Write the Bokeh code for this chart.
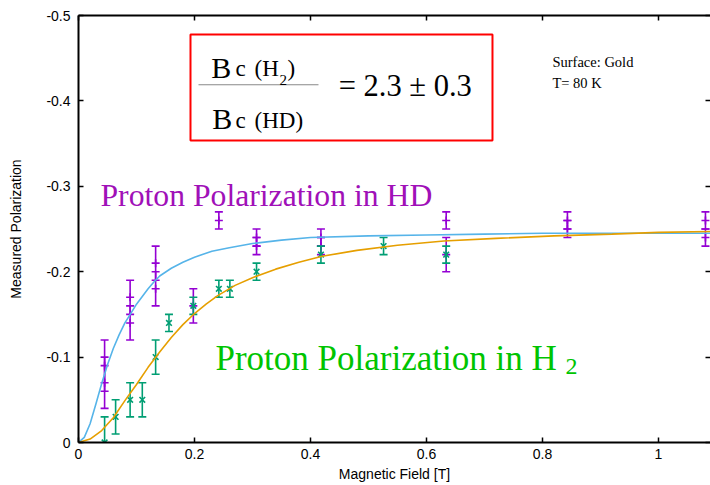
from bokeh.plotting import figure
from bokeh.models import Range1d, FixedTicker, LinearAxis, Label, BoxAnnotation, ColumnDataSource
from bokeh.embed import file_html
from bokeh.resources import INLINE

# ---------------- data ----------------
hd_x = [0.045, 0.045, 0.089, 0.089, 0.133, 0.133, 0.198, 0.242, 0.307, 0.307,
        0.418, 0.418, 0.634, 0.634, 0.843, 0.843, 1.081, 1.081]
hd_y = [-0.09, -0.07, -0.17, -0.14, -0.21, -0.18, -0.16, -0.26, -0.24, -0.23,
        -0.24, -0.23, -0.26, -0.22, -0.26, -0.25, -0.26, -0.24]
hd_err = [0.03, 0.03, 0.02, 0.02, 0.02, 0.02, 0.02, 0.01, 0.01, 0.01,
          0.01, 0.01, 0.01, 0.02, 0.01, 0.01, 0.01, 0.01]

h2_x = [0.045, 0.064, 0.089, 0.110, 0.133, 0.156, 0.198, 0.242, 0.261, 0.307,
        0.418, 0.526, 0.634]
h2_y = [0.00, -0.03, -0.05, -0.05, -0.10, -0.14, -0.16, -0.18, -0.18, -0.20,
        -0.22, -0.23, -0.22]
h2_err = [0.03, 0.02, 0.02, 0.02, 0.02, 0.01, 0.01, 0.01, 0.01, 0.01,
          0.01, 0.01, 0.01]

hd_fit_x = [0, 0.01, 0.02, 0.03, 0.04, 0.05, 0.06, 0.07, 0.08, 0.09, 0.10, 0.11,
            0.12, 0.13, 0.14, 0.16, 0.18, 0.20, 0.23, 0.26, 0.30, 0.35, 0.40,
            0.50, 0.60, 0.70, 0.80, 0.90, 1.00, 1.09]
hd_fit_y = [0, -0.006, -0.022, -0.045, -0.069, -0.091, -0.110, -0.126, -0.140,
            -0.151, -0.162, -0.171, -0.180, -0.188, -0.195, -0.204, -0.211,
            -0.217, -0.224, -0.228, -0.233, -0.237, -0.240, -0.242, -0.243,
            -0.244, -0.245, -0.245, -0.245, -0.245]

h2_fit_x = [0, 0.02, 0.04, 0.06, 0.08, 0.10, 0.12, 0.14, 0.16, 0.18, 0.20, 0.22,
            0.24, 0.27, 0.30, 0.34, 0.38, 0.42, 0.48, 0.55, 0.63, 0.72, 0.82,
            0.92, 1.00, 1.09]
h2_fit_y = [0, -0.004, -0.014, -0.029, -0.049, -0.068, -0.088, -0.106, -0.123,
            -0.138, -0.151, -0.162, -0.172, -0.184, -0.193, -0.203, -0.211,
            -0.218, -0.225, -0.231, -0.236, -0.239, -0.242, -0.244, -0.246,
            -0.247]

x_ticks = [0, 0.2, 0.4, 0.6, 0.8, 1.0]
x_tick_labels = ["0", "0.2", "0.4", "0.6", "0.8", "1"]
y_ticks = [0, -0.1, -0.2, -0.3, -0.4, -0.5]
y_tick_labels = ["0", "-0.1", "-0.2", "-0.3", "-0.4", "-0.5"]

# ---------------- styles ----------------
HD_COL = "#9400d3"
H2_COL = "#009e73"
HD_FIT = "#56b4e9"
H2_FIT = "#e69f00"
SANS = "Liberation Sans"
SERIF = "Liberation Serif"

p = figure(width=710, height=485, x_range=Range1d(0, 1.0897), y_range=Range1d(0, -0.5),
           output_backend="svg", toolbar_location=None,
           min_border_left=78, min_border_right=0, min_border_top=15, min_border_bottom=43)
p.outline_line_color = None
p.grid.visible = False
p.background_fill_color = "white"
p.border_fill_color = "white"

for ax, ticks, labels in ((p.xaxis[0], x_ticks, x_tick_labels), (p.yaxis[0], y_ticks, y_tick_labels)):
    ax.ticker = FixedTicker(ticks=ticks)
    ax.major_label_overrides = {t: l for t, l in zip(ticks, labels)}
    ax.major_tick_in = 5
    ax.major_tick_out = 0
    ax.minor_tick_line_color = None
    ax.axis_line_width = 2
    ax.axis_line_color = "black"
    ax.major_tick_line_width = 1.5
    ax.major_label_text_font = SANS
    ax.major_label_text_font_size = "14px"
    ax.major_label_text_color = "black"
    ax.axis_label_text_font = SANS
    ax.axis_label_text_font_size = "14px"
    ax.axis_label_text_font_style = "normal"
    ax.axis_label_text_color = "black"

p.xaxis.axis_label = "Magnetic Field [T]"
p.yaxis.axis_label = "Measured Polarization"
p.xaxis.major_label_standoff = 6
p.xaxis.axis_label_standoff = 4
p.yaxis.major_label_standoff = 8
p.yaxis.axis_label_standoff = 19

top = LinearAxis(ticker=FixedTicker(ticks=x_ticks), major_label_text_font_size="0px",
                 major_label_standoff=0, major_tick_in=5, major_tick_out=0,
                 minor_tick_line_color=None, axis_line_width=2, major_tick_line_width=1.5)
top.major_label_overrides = {t: "" for t in x_ticks}
p.add_layout(top, "above")
right = LinearAxis(ticker=FixedTicker(ticks=y_ticks), major_label_text_font_size="0px",
                   major_label_standoff=0, major_tick_in=5, major_tick_out=0,
                   minor_tick_line_color=None, axis_line_color=None, major_tick_line_width=1.5)
right.major_label_overrides = {t: "" for t in y_ticks}
p.add_layout(right, "right")

# ---------------- data points with error bars ----------------
hd_src = ColumnDataSource(dict(x=hd_x, y=hd_y,
                               lo=[y - e for y, e in zip(hd_y, hd_err)],
                               hi=[y + e for y, e in zip(hd_y, hd_err)]))
h2_src = ColumnDataSource(dict(x=h2_x, y=h2_y,
                               lo=[y - e for y, e in zip(h2_y, h2_err)],
                               hi=[y + e for y, e in zip(h2_y, h2_err)]))

for src, col, mk in ((hd_src, HD_COL, "cross"), (h2_src, H2_COL, "x")):
    p.segment(x0="x", y0="lo", x1="x", y1="hi", source=src, line_color=col, line_width=1.6)
    p.scatter(x="x", y="lo", source=src, marker="dash", size=8, line_color=col, line_width=1.6)
    p.scatter(x="x", y="hi", source=src, marker="dash", size=8, line_color=col, line_width=1.6)
    p.scatter(x="x", y="y", source=src, marker=mk, size=8, line_color=col, line_width=1.6)

# ---------------- fitted curves ----------------
p.line(hd_fit_x, hd_fit_y, line_color=HD_FIT, line_width=1.6)
p.line(h2_fit_x, h2_fit_y, line_color=H2_FIT, line_width=1.6)

# ---------------- annotations ----------------
p.add_layout(Label(x=0.0379, y=-0.2892, text="Proton Polarization in HD", text_font=SERIF,
                   text_font_size="31.7px", text_color="#a010b8", text_baseline="alphabetic"))
p.add_layout(Label(x=0.2362, y=-0.0984, text="Proton Polarization in H", text_font=SERIF,
                   text_font_size="35px", text_color="#00c400", text_baseline="alphabetic"))
p.add_layout(Label(x=0.8397, y=-0.0890, text="2", text_font=SERIF,
                   text_font_size="24px", text_color="#00c400", text_baseline="alphabetic"))

p.add_layout(BoxAnnotation(left=0.1931, right=0.7138, top=-0.4778, bottom=-0.3536,
                           fill_color="white", fill_alpha=1.0, line_color="#ff0000",
                           line_alpha=1.0, line_width=2))
p.add_layout(BoxAnnotation(left=0.2069, right=0.4138, top=-0.4195, bottom=-0.4183,
                           fill_color="#888888", fill_alpha=1.0, line_color=None))

def lab(x, y, t, size):
    p.add_layout(Label(x=x, y=y, text=t, text_font=SERIF, text_font_size=size,
                       text_color="black", text_baseline="alphabetic"))

lab(0.2288, -0.4395, "B", "30px")
lab(0.2707, -0.4380, "c", "23px")
lab(0.3035, -0.4380, "(H", "23px")
lab(0.3466, -0.4247, "2", "15px")
lab(0.3603, -0.4380, ")", "23px")
lab(0.2305, -0.3790, "B", "30px")
lab(0.2707, -0.3770, "c", "23px")
lab(0.3035, -0.3770, "(HD)", "23px")
lab(0.4488, -0.4169, "= 2.3 ± 0.3", "30.5px")
lab(0.8172, -0.4453, "Surface: Gold", "14.5px")
lab(0.8172, -0.4215, "T= 80 K", "14.5px")

open("out.html", "w").write(file_html(p, INLINE))
